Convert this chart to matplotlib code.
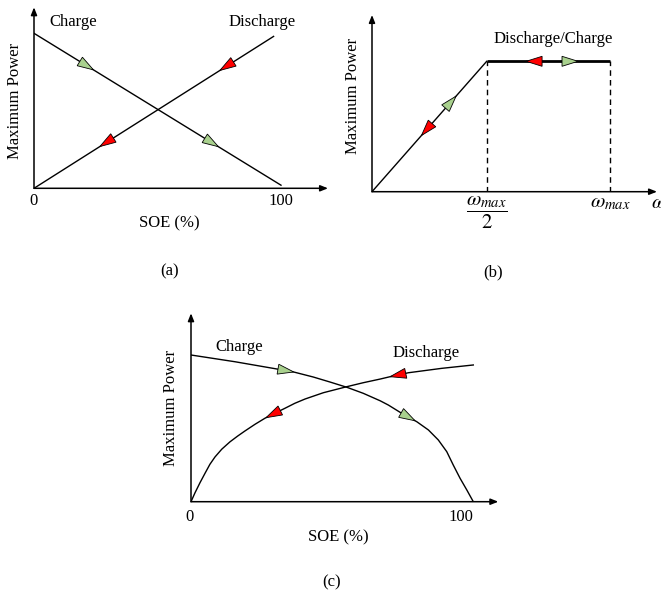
import numpy as np
import matplotlib
matplotlib.use("Agg")
import matplotlib.pyplot as plt
from matplotlib.patches import Polygon
from matplotlib.transforms import IdentityTransform

plt.rcParams["font.family"] = ["Liberation Serif", "DejaVu Serif"]
plt.rcParams["mathtext.fontset"] = "stix"

W, H = 661, 604
FS = 12
GREEN = "#a9d18e"
RED = "#ff0000"

# ---- (a) linear SOE limits
soe_a = [0, 100]
charge_a = [1.0, 0.02]
soe_dis_a = [0, 97]
discharge_a = [0.0, 0.98]
charge_a_arrows = [21.3, 71.9]
discharge_a_arrows = [29.4, 78.0]

# ---- (b) speed limit (omega normalised by omega_max)
omega_b = [0, 0.482, 1.0]
power_b = [0.0, 1.0, 1.0]
slope_fwd_b = [0.331]
slope_back_b = [0.230]
flat_back_b = [0.681]
flat_fwd_b = [0.832]

# ---- (c) nonlinear SOE limits
soe_ch_c = [0, 15.6, 30.9, 36.2, 43.3, 49.2, 55.2, 61.0, 67.0, 69.9, 74.6, 80.0,
            84.1, 87.6, 90.6, 92.9, 95.3, 97.7, 100]
charge_c = [1.0, 0.954, 0.903, 0.885, 0.850, 0.816, 0.780, 0.739, 0.688, 0.659,
            0.603, 0.545, 0.489, 0.421, 0.341, 0.250, 0.160, 0.080, 0.0]
soe_dis_c = [0, 1.4, 3.2, 5.0, 6.7, 8.5, 10.9, 13.8, 16.5, 19.1, 22.7, 26.2, 29.8,
             33.3, 36.8, 40.4, 46.9, 55.2, 61.0, 67.0, 70.5, 77.0, 88.8, 100]
discharge_c = [0.0, 0.06, 0.13, 0.195, 0.255, 0.305, 0.358, 0.408, 0.447, 0.482,
               0.528, 0.569, 0.604, 0.637, 0.671, 0.700, 0.743, 0.784, 0.811,
               0.836, 0.852, 0.879, 0.909, 0.932]
charge_c_arrows = [33.6, 76.9]
discharge_c_arrows = [29.1, 73.3]


fig = plt.figure(figsize=(W / 100, H / 100), dpi=100)


def make_axes(ox, oy, tipx, tipy, xscale, yscale):
    # ox, oy: axis origin in pixels; tip: arrow tips; scale: pixels per data unit
    ax = fig.add_axes([ox / W, 1 - oy / H, (tipx - ox) / W, (oy - tipy) / H])
    xmax = (tipx - ox) / xscale
    ymax = (oy - tipy) / yscale
    ax.set_xlim(0, xmax)
    ax.set_ylim(0, ymax)
    ax.axis("off")
    ap = dict(arrowstyle="-|>,head_length=0.45,head_width=0.18", color="black",
              lw=1.1, shrinkA=0, shrinkB=0, mutation_scale=10)
    ax.annotate("", xy=(xmax, 0), xytext=(0, 0), arrowprops=ap, annotation_clip=False)
    ax.annotate("", xy=(0, ymax), xytext=(0, 0), arrowprops=ap, annotation_clip=False)
    return ax


def tri(ax, xs, ys, at, forward, color, L=16, Wd=10):
    step = 0.5 * (xs[-1] - xs[0]) / 100
    y0 = np.interp(at, xs, ys)
    y1 = np.interp(at + step, xs, ys)
    p0 = ax.transData.transform((at, y0))
    p1 = ax.transData.transform((at + step, y1))
    d = (p1 - p0) / np.linalg.norm(p1 - p0)
    if not forward:
        d = -d
    n = np.array([-d[1], d[0]])
    tip = p0 + d * L / 2
    b = p0 - d * L / 2
    verts = [tip, b + n * Wd / 2, b - n * Wd / 2]
    ax.add_patch(Polygon(verts, closed=True, facecolor=color, edgecolor="black",
                         lw=0.6, transform=IdentityTransform(), zorder=5,
                         clip_on=False))


def ftext(x, y, s, size=FS, **kw):
    fig.text(x / W, 1 - y / H, s, ha="center", va="center", fontsize=size, **kw)


# ---------------- (a)
ax = make_axes(34, 188.3, 328, 7.3, 2.47, 155)
ax.plot(soe_a, charge_a, color="black", lw=1.0)
ax.plot(soe_dis_a, discharge_a, color="black", lw=1.0)
for s in charge_a_arrows:
    tri(ax, soe_a, charge_a, s, True, GREEN)
for s in discharge_a_arrows:
    tri(ax, soe_dis_a, discharge_a, s, False, RED)
ftext(33, 201, "0")
ftext(281, 201, "100")
ftext(169, 223, "SOE (%)")
ftext(15, 101, "Maximum Power", rotation=90)
ftext(73, 22, "Charge")
ftext(262, 22, "Discharge")
ftext(170, 271, "(a)")

# ---------------- (b)
ax = make_axes(372, 191.7, 657, 15, 238, 130.4)
ax.plot(omega_b[:2], power_b[:2], color="black", lw=1.0)
ax.plot(omega_b[1:], power_b[1:], color="black", lw=2.0, solid_capstyle="butt")
for w in omega_b[1:]:
    ax.plot([w, w], [0, 1], color="black", lw=1.0, dashes=(4, 3))
for w in slope_fwd_b:
    tri(ax, omega_b[:2], power_b[:2], w, True, GREEN)
for w in slope_back_b:
    tri(ax, omega_b[:2], power_b[:2], w, False, RED)
for w in flat_back_b:
    tri(ax, omega_b[1:], power_b[1:], w, False, RED)
for w in flat_fwd_b:
    tri(ax, omega_b[1:], power_b[1:], w, True, GREEN)
ftext(487, 213, r"$\dfrac{\omega_{max}}{2}$", size=15)
ftext(610, 203, r"$\omega_{max}$", size=15)
fig.text(651 / W, 1 - 203 / H, r"$\omega$", ha="left", va="center", fontsize=15)
ftext(553, 39, "Discharge/Charge")
ftext(353, 96, "Maximum Power", rotation=90)
ftext(493, 272, "(b)")

# ---------------- (c)
ax = make_axes(191, 501.7, 498.3, 313.3, 2.823, 146.7)
ax.plot(soe_ch_c, charge_c, color="black", lw=1.0)
ax.plot(soe_dis_c, discharge_c, color="black", lw=1.0)
for s in charge_c_arrows:
    tri(ax, soe_ch_c, charge_c, s, True, GREEN)
for s in discharge_c_arrows:
    tri(ax, soe_dis_c, discharge_c, s, False, RED)
ftext(189, 517, "0")
ftext(461, 517, "100")
ftext(338, 537, "SOE (%)")
ftext(171, 408, "Maximum Power", rotation=90)
ftext(239, 347, "Charge")
ftext(426, 353, "Discharge")
ftext(332, 582, "(c)")

fig.savefig("out.png", dpi=100)
